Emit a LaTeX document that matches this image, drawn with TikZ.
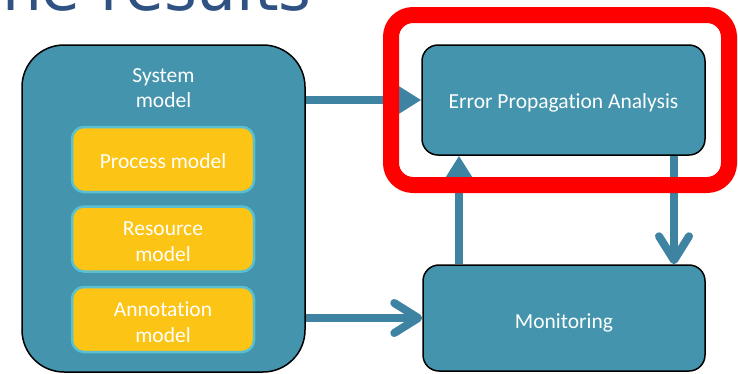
\documentclass[tikz,border=0pt]{standalone}
\usepackage{fontspec}
\setmainfont{Carlito}[Ligatures=NoCommon]
\newfontfamily\titlefont{DejaVu Sans}
\usetikzlibrary{arrows.meta}
\definecolor{boxfill}{RGB}{67,148,172}
\definecolor{arrowc}{RGB}{62,131,162}
\definecolor{yel}{RGB}{252,196,20}
\definecolor{yelborder}{RGB}{90,192,208}
\definecolor{titlec}{RGB}{47,82,131}
\definecolor{ringred}{RGB}{255,0,0}
\begin{document}
\begin{tikzpicture}[x=1pt,y=-1pt,
  wlabel/.style={text=white, font=\fontsize{21.5}{25.5}\selectfont, align=center, inner sep=0pt},
  bluebox/.style={draw=black, line width=1.5pt, fill=boxfill, rounded corners=16pt, inner sep=0pt},
  yelbox/.style={draw=yelborder, line width=2.5pt, fill=yel, rounded corners=12pt,
    inner sep=0pt, minimum width=182pt, minimum height=65pt},
  conn/.style={draw=arrowc, line width=8pt},
  solidhead/.style={-{Triangle[length=24pt,width=28pt]}},
  openhead/.style={-{Straight Barb[length=24pt,width=30pt,round]}}
]
\useasboundingbox (0,0) rectangle (738,373);
\clip (0,0) rectangle (738,373);

% title (cut off at top)
\node[anchor=base east, inner sep=0pt, text=titlec,
  font=\titlefont\fontsize{63}{70}\selectfont] (title) at (312,10) {The results};

% system model
\node[bluebox, rounded corners=42pt, minimum width=283pt, minimum height=327pt] (sys) at (163.5,208.5) {};
\node[wlabel] (sysl) at (163.5,88) {System\\model};
\node[yelbox, label={[wlabel,yshift=-1.5pt]center:Process model}] (proc) at (163,159.5) {};
\node[yelbox, label={[wlabel,yshift=-2.5pt]center:Resource\\model}] (res) at (163,239) {};
\node[yelbox, label={[wlabel,yshift=-2.5pt]center:Annotation\\model}] (ann) at (163,319.5) {};

% right boxes
\node[bluebox, minimum width=283pt, minimum height=110pt,
  label={[wlabel,yshift=-3pt]center:Error Propagation Analysis}] (epa) at (563.5,100) {};
\node[bluebox, minimum width=282pt, minimum height=106pt,
  label={[wlabel,yshift=-4.5pt]center:Monitoring}] (mon) at (564,318) {};

\coordinate (up) at (459,0);
\coordinate (down) at (674,0);

% connectors
\draw[conn, solidhead] (sys.east |- epa.west) -- (epa.west);
\draw[conn, openhead] (sys.east |- mon.west) -- (mon.west);
\draw[conn, solidhead] (up |- mon.north) -- (up |- epa.south);
\draw[conn, openhead] (down |- epa.south) -- (down |- mon.north);

% red highlight ring
\node[draw=ringred, line width=16pt, rounded corners=22pt, inner sep=0pt,
  minimum width=338pt, minimum height=170pt] (ring) at (560,100) {};
\end{tikzpicture}
\end{document}
